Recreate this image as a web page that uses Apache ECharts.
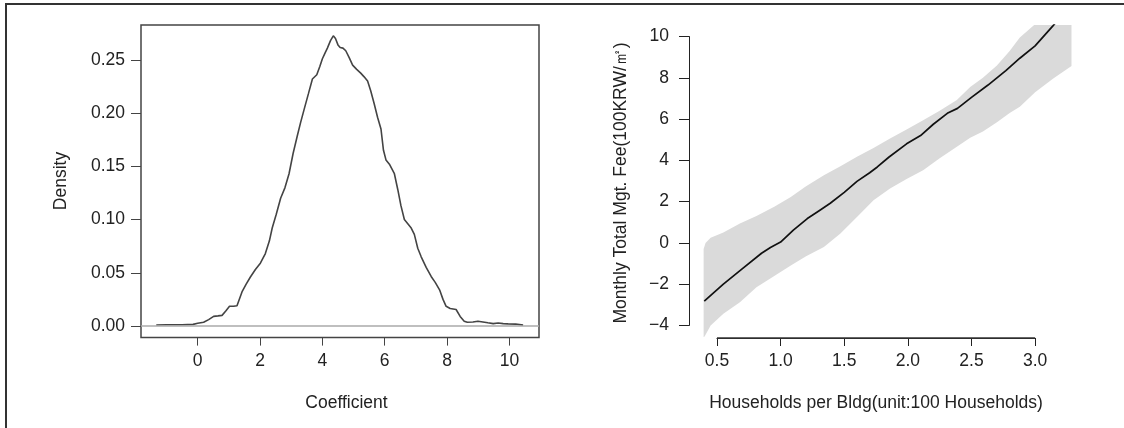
<!DOCTYPE html>
<html><head><meta charset="utf-8">
<script src="https://cdn.jsdelivr.net/npm/echarts@6/dist/echarts.min.js"></script>
<style>html,body{margin:0;padding:0;background:#fff}#c{width:1124px;height:428px}</style>
</head><body><div id="c"></div>
<script>
// ---- Left panel: posterior density of coefficient ----
const densX = [-1.33,-1.0,-0.5,-0.15,0.0,0.19,0.35,0.51,0.65,0.78,0.9,1.02,1.15,1.26,1.42,1.55,1.69,1.85,2.01,2.17,2.3,2.39,2.52,2.66,2.8,2.93,3.06,3.19,3.3,3.41,3.55,3.68,3.82,3.92,4.0,4.08,4.16,4.26,4.35,4.42,4.5,4.57,4.66,4.75,4.86,4.97,5.1,5.23,5.34,5.45,5.55,5.66,5.77,5.88,5.96,6.04,6.15,6.31,6.42,6.52,6.63,6.74,6.85,6.95,7.06,7.17,7.33,7.49,7.62,7.76,7.87,7.97,8.1,8.29,8.42,8.55,8.65,8.83,8.99,9.15,9.31,9.48,9.64,9.8,9.96,10.2,10.44];
const densY = [0.0010,0.0012,0.0012,0.0015,0.0025,0.0035,0.0060,0.0090,0.0095,0.0100,0.0140,0.0185,0.0185,0.0190,0.0320,0.0390,0.0460,0.0530,0.0590,0.0680,0.0800,0.0920,0.1050,0.1200,0.1300,0.1430,0.1620,0.1780,0.1910,0.2030,0.2180,0.2320,0.2360,0.2440,0.2510,0.2560,0.2610,0.2680,0.2725,0.2700,0.2640,0.2615,0.2610,0.2585,0.2520,0.2450,0.2410,0.2375,0.2340,0.2300,0.2210,0.2090,0.1960,0.1850,0.1650,0.1560,0.1520,0.1430,0.1280,0.1130,0.1000,0.0960,0.0920,0.0860,0.0730,0.0650,0.0550,0.0465,0.0410,0.0340,0.0250,0.0185,0.0165,0.0155,0.0090,0.0045,0.0035,0.0038,0.0045,0.0038,0.0030,0.0022,0.0028,0.0022,0.0020,0.0018,0.0008];
const leftXTicks = [0, 2, 4, 6, 8, 10];
const leftYTicks = [0, 0.05, 0.10, 0.15, 0.20, 0.25];

// ---- Right panel: fitted line with interval band ----
const lineX = [0.40,0.55,0.70,0.85,0.92,1.0,1.10,1.21,1.30,1.39,1.50,1.60,1.70,1.76,1.85,1.99,2.10,2.20,2.31,2.39,2.50,2.63,2.77,2.88,3.00,3.14,3.29];
const lineY = [-2.82,-2.0,-1.25,-0.50,-0.22,0.04,0.62,1.18,1.55,1.92,2.45,2.98,3.40,3.68,4.15,4.80,5.20,5.75,6.28,6.52,7.05,7.65,8.35,8.95,9.55,10.52,11.6];
const bandX = [0.395,0.41,0.45,0.55,0.68,0.81,0.95,1.08,1.20,1.34,1.47,1.60,1.73,1.86,1.99,2.12,2.25,2.385,2.49,2.59,2.70,2.80,2.88,3.0,3.14,3.286];
const bandLow = [-4.6,-4.45,-4.0,-3.43,-2.87,-2.15,-1.6,-1.09,-0.65,-0.20,0.45,1.26,2.07,2.64,3.1,3.52,4.1,4.66,5.1,5.4,5.85,6.3,6.6,7.3,7.95,8.57];
const bandHigh = [-0.3,0.0,0.25,0.5,0.94,1.3,1.75,2.23,2.75,3.28,3.72,4.17,4.6,5.06,5.5,5.95,6.4,6.92,7.55,8.0,8.6,9.3,9.95,10.6,11.3,12.3];
const rightXTicks = [0.5, 1.0, 1.5, 2.0, 2.5, 3.0];
const rightYTicks = [-4, -2, 0, 2, 4, 6, 8, 10];

const FONT = "'Liberation Sans', Arial, sans-serif";
const FS = 17.5;
const TXT = '#222';

// right panel geometry (plot region) and ranges
const R = {left: 689, top: 25, width: 397, height: 312, xmin: 0.28, xmax: 3.40, ymin: -4.56, ymax: 10.56};
const pxX = R.width / (R.xmax - R.xmin), pxY = R.height / (R.ymax - R.ymin);
const axLeft = R.left + (rightXTicks[0] - R.xmin) * pxX;
const axWidth = (rightXTicks[rightXTicks.length-1] - rightXTicks[0]) * pxX;
const axTop = R.top + (R.ymax - rightYTicks[rightYTicks.length-1]) * pxY;
const axHeight = (rightYTicks[rightYTicks.length-1] - rightYTicks[0]) * pxY;

const minus = v => String(v).replace('-', '\u2212');

// band polygon: upper edge left->right, lower edge right->left
const bandPoly = bandX.map((x, i) => [x, bandHigh[i]])
  .concat(bandX.map((x, i) => [x, bandLow[i]]).reverse());

// bottom axis baseline from first to last tick (R style)
const xAxisBase = [[rightXTicks[0], 0], [rightXTicks[rightXTicks.length - 1], 0]];

const chart = echarts.init(document.getElementById('c'), null, {renderer: 'canvas'});
const option = {
  backgroundColor: '#fff',
  animation: false,
  grid: [
    {left: 141, top: 25, width: 398, height: 312.6, show: true, borderColor: '#444', borderWidth: 1.5, backgroundColor: 'transparent'},
    {left: R.left, top: R.top, width: R.width, height: R.height},
    // x-axis carrier: spans first..last tick horizontally, bottom at plot bottom
    {left: axLeft, top: R.top, width: axWidth, height: R.height + 1},
    // y-axis carrier: spans first..last tick vertically, at plot left edge
    {left: R.left, top: axTop, width: R.width, height: axHeight}
  ],
  xAxis: [
    {gridIndex: 0, type: 'value', min: -1.82, max: 10.95,
     axisLine: {show: false, onZero: false},
     axisTick: {show: true, customValues: leftXTicks, length: 8, lineStyle: {color: '#444', width: 1}},
     axisLabel: {customValues: leftXTicks, margin: 15, fontSize: FS, color: TXT, fontFamily: FONT},
     splitLine: {show: false}},
    {gridIndex: 1, type: 'value', min: R.xmin, max: R.xmax, show: false},
    {gridIndex: 2, type: 'value', min: 0.5, max: 3.0, interval: 0.5, position: 'bottom',
     axisLine: {show: true, onZero: false, lineStyle: {color: '#222', width: 1.2}},
     axisTick: {show: true, length: 8, lineStyle: {color: '#222', width: 1}},
     axisLabel: {margin: 14, fontSize: FS, color: TXT, fontFamily: FONT, formatter: v => v.toFixed(1)},
     splitLine: {show: false}},
    {gridIndex: 3, type: 'value', min: 0, max: 1, show: false}
  ],
  yAxis: [
    {gridIndex: 0, type: 'value', min: -0.0109, max: 0.2827,
     axisLine: {show: false, onZero: false},
     axisTick: {show: true, customValues: leftYTicks, length: 10, lineStyle: {color: '#444', width: 1}},
     axisLabel: {customValues: leftYTicks, margin: 16, fontSize: FS, color: TXT, fontFamily: FONT, formatter: v => v.toFixed(2)},
     splitLine: {show: false}},
    {gridIndex: 1, type: 'value', min: R.ymin, max: R.ymax, show: false},
    {gridIndex: 2, type: 'value', min: 0, max: 1, show: false},
    {gridIndex: 3, type: 'value', min: -4, max: 10, interval: 2, position: 'left',
     axisLine: {show: true, onZero: false, lineStyle: {color: '#222', width: 1}},
     axisTick: {show: true, length: 10, lineStyle: {color: '#222', width: 1}},
     axisLabel: {margin: 20, fontSize: FS, color: TXT, fontFamily: FONT, formatter: v => minus(v)},
     splitLine: {show: false}}
  ],
  series: [
    {type: 'line', xAxisIndex: 0, yAxisIndex: 0, symbol: 'none',
     data: densX.map((x, i) => [x, densY[i]]),
     lineStyle: {color: '#444', width: 1.6},
     markLine: {silent: true, symbol: 'none', label: {show: false},
       lineStyle: {color: '#aaa', width: 1.5, type: 'solid'},
       data: [{yAxis: 0}]}},
    {type: 'custom', xAxisIndex: 1, yAxisIndex: 1, clip: true, silent: true,
     data: [0],
     renderItem: (params, api) => ({
       type: 'polygon',
       shape: {points: bandPoly.map(p => api.coord(p))},
       style: {fill: '#dadada', stroke: null}
     })},
    {type: 'line', xAxisIndex: 1, yAxisIndex: 1, symbol: 'none', clip: true,
     data: lineX.map((x, i) => [x, lineY[i]]),
     lineStyle: {color: '#111', width: 1.7}},
    {type: 'line', xAxisIndex: 2, yAxisIndex: 2, symbol: 'none', clip: false, silent: true, z: 10,
     data: xAxisBase,
     lineStyle: {color: '#333', width: 1.5}}
  ],
  graphic: [
    {type: 'polyline', shape: {points: [[6, 440], [6, 4], [1130, 4]]}, style: {stroke: '#333', lineWidth: 2, fill: null}},
    {type: 'text', x: 61, y: 181, rotation: Math.PI / 2,
     style: {text: 'Density', font: FS + 'px ' + FONT, fill: TXT, align: 'center', verticalAlign: 'middle'}},
    {type: 'text', x: 346.5, y: 403,
     style: {text: 'Coefficient', font: FS + 'px ' + FONT, fill: TXT, align: 'center', verticalAlign: 'middle'}},
    {type: 'text', x: 621, y: 183, rotation: Math.PI / 2,
     style: {text: 'Monthly Total Mgt. Fee(100KRW/\u33A1)', font: FS + 'px ' + FONT, fill: TXT, align: 'center', verticalAlign: 'middle'}},
    {type: 'text', x: 876, y: 403,
     style: {text: 'Households per Bldg(unit:100 Households)', font: FS + 'px ' + FONT, fill: TXT, align: 'center', verticalAlign: 'middle'}}
  ]
};
chart.setOption(option);
</script></body></html>
